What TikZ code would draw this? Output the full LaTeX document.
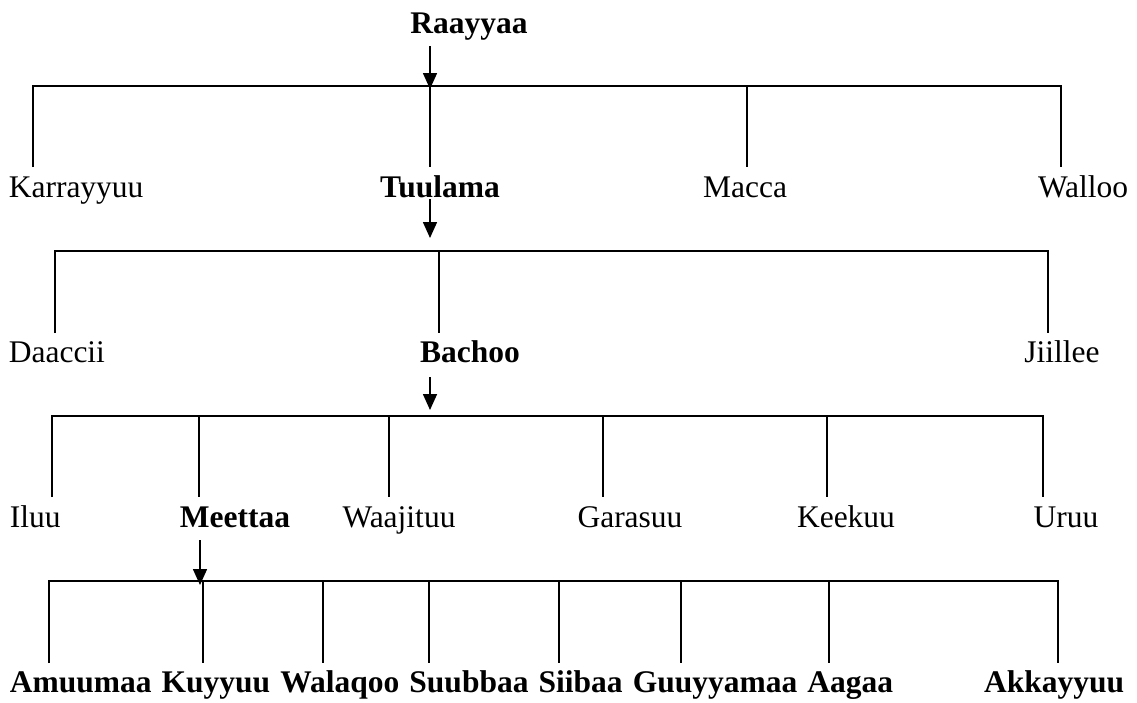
\documentclass[tikz,border=0pt]{standalone}
\usepackage{fontspec}
\setmainfont{Liberation Serif}
\usetikzlibrary{arrows.meta}
\begin{document}
\begin{tikzpicture}[x=1pt,y=-1pt,line width=1.6pt,
  lbl/.style={inner sep=0pt,font=\fontsize{31.5}{37}\selectfont},
  blbl/.style={inner sep=0pt,font=\fontsize{31.5}{37}\selectfont\bfseries},
  arr/.style={-{Triangle[width=14pt,length=16pt]},line width=1.6pt},
  bus/.style={line width=1.6pt}]
\useasboundingbox (0,0) rectangle (1137,702);

% ---------- labels ----------
\node[blbl,anchor=base] (raayyaa) at (469,33) {Raayyaa};

\node[lbl,anchor=base west] (karrayyuu) at (8,197) {Karrayyuu};
\node[blbl,anchor=base] (tuulama) at (440,197) {Tuulama};
\node[lbl,anchor=base] (macca) at (745,197) {Macca};
\node[lbl,anchor=base east] (walloo) at (1129,197) {Walloo};

\node[lbl,anchor=base west] (daaccii) at (8,362) {Daaccii};
\node[blbl,anchor=base] (bachoo) at (470,362) {Bachoo};
\node[lbl,anchor=base] (jiillee) at (1062,362) {Jiillee};

\node[lbl,anchor=base west] (iluu) at (9,527) {Iluu};
\node[blbl,anchor=base] (meettaa) at (235,527) {Meettaa};
\node[lbl,anchor=base] (waajituu) at (399,527) {Waajituu};
\node[lbl,anchor=base] (garasuu) at (630,527) {Garasuu};
\node[lbl,anchor=base] (keekuu) at (846,527) {Keekuu};
\node[lbl,anchor=base] (uruu) at (1066,527) {Uruu};

\node[blbl,anchor=base west] (amuumaa) at (9,692) {Amuumaa};
\node[blbl,anchor=base west] (kuyyuu) at ([xshift=8.5pt]amuumaa.base east) {Kuyyuu};
\node[blbl,anchor=base west] (walaqoo) at ([xshift=8.5pt]kuyyuu.base east) {Walaqoo};
\node[blbl,anchor=base west] (suubbaa) at ([xshift=8.5pt]walaqoo.base east) {Suubbaa};
\node[blbl,anchor=base west] (siibaa) at ([xshift=8.5pt]suubbaa.base east) {Siibaa};
\node[blbl,anchor=base west] (guuyyamaa) at ([xshift=8.5pt]siibaa.base east) {Guuyyamaa};
\node[blbl,anchor=base west] (aagaa) at ([xshift=8.5pt]guuyyamaa.base east) {Aagaa};
\node[blbl,anchor=base east] (akkayyuu) at (1125,692) {Akkayyuu};

% ---------- level 1 ----------
\coordinate (a1s) at (430,46);  \coordinate (a1e) at (430,89);
\coordinate (l1a) at (33,167);  \coordinate (l1b) at (430,167);
\coordinate (l1c) at (747,167); \coordinate (l1d) at (1061,167);
\coordinate (h1) at (0,86);
\draw[bus] (l1a) |- (h1 -| l1d) -- (l1d);
\draw[bus] (h1 -| l1b) -- (l1b);
\draw[bus] (h1 -| l1c) -- (l1c);
\draw[arr] (a1s) -- (a1e);

% ---------- level 2 ----------
\coordinate (a2s) at (430,199); \coordinate (a2e) at (430,238);
\coordinate (l2a) at (55,333);  \coordinate (l2b) at (439,333);
\coordinate (l2c) at (1048,333);
\coordinate (h2) at (0,251);
\draw[bus] (l2a) |- (h2 -| l2c) -- (l2c);
\draw[bus] (h2 -| l2b) -- (l2b);
\draw[arr] (a2s) -- (a2e);

% ---------- level 3 ----------
\coordinate (a3s) at (430,377); \coordinate (a3e) at (430,410);
\coordinate (l3a) at (52,497);  \coordinate (l3b) at (199,497);
\coordinate (l3c) at (389,497); \coordinate (l3d) at (603,497);
\coordinate (l3e) at (827,497); \coordinate (l3f) at (1043,497);
\coordinate (h3) at (0,416);
\draw[bus] (l3a) |- (h3 -| l3f) -- (l3f);
\foreach \c in {l3b,l3c,l3d,l3e} \draw[bus] (h3 -| \c) -- (\c);
\draw[arr] (a3s) -- (a3e);

% ---------- level 4 ----------
\coordinate (a4s) at (200,540); \coordinate (a4e) at (200,585);
\coordinate (l4a) at (49,663);  \coordinate (l4b) at (203,663);
\coordinate (l4c) at (323,663); \coordinate (l4d) at (429,663);
\coordinate (l4e) at (559,663); \coordinate (l4f) at (681,663);
\coordinate (l4g) at (829,663); \coordinate (l4h) at (1058,663);
\coordinate (h4) at (0,581);
\draw[bus] (l4a) |- (h4 -| l4h) -- (l4h);
\foreach \c in {l4b,l4c,l4d,l4e,l4f,l4g} \draw[bus] (h4 -| \c) -- (\c);
\draw[arr] (a4s) -- (a4e);
\end{tikzpicture}
\end{document}
